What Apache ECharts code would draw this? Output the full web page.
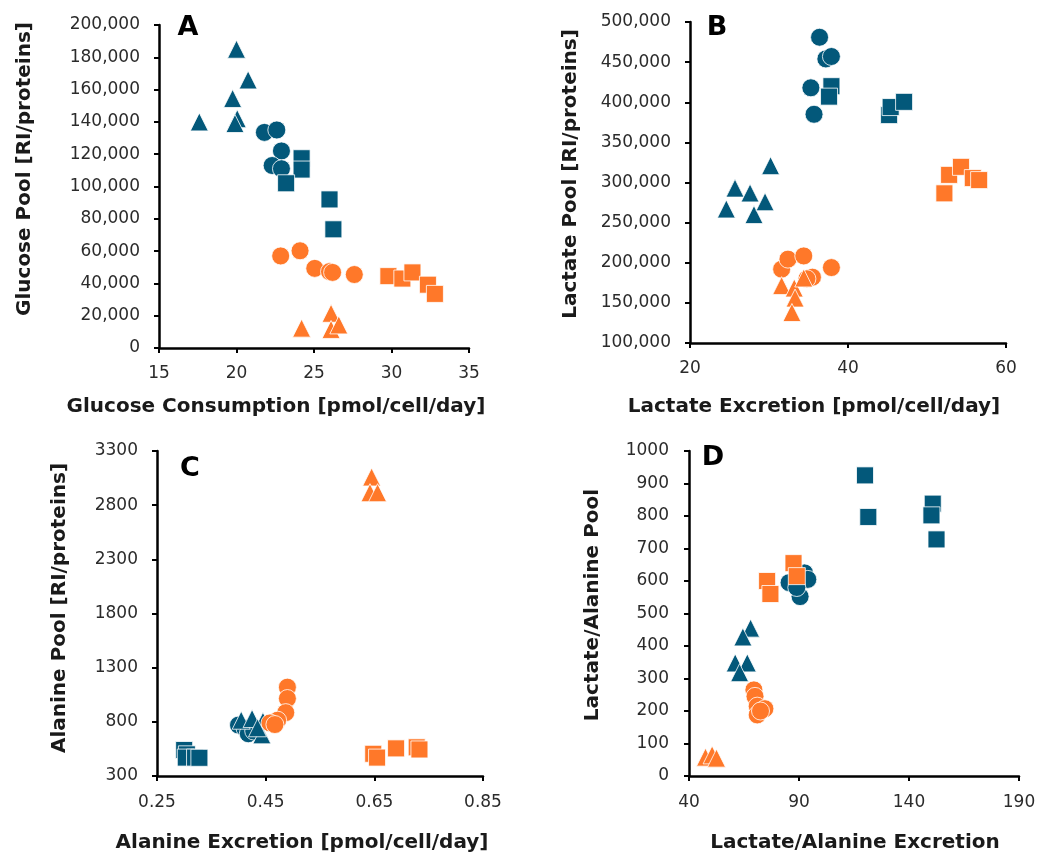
<!DOCTYPE html>
<html>
<head>
<meta charset="utf-8">
<script src="https://cdn.jsdelivr.net/npm/echarts@6/dist/echarts.min.js"></script>
<style>
html,body{margin:0;padding:0;background:#fff;}
#chart{width:1056px;height:857px;}
</style>
</head>
<body>
<div id="chart"></div>
<script>
// ---------- Panel A: Glucose ----------
const aTealCircle = [[21.8,133500],[22.6,135000],[22.9,122000],[22.3,113000],[22.9,111000]];
const aTealSquare = [[24.2,117500],[24.2,110500],[23.2,102000],[26.0,92000],[26.25,73500]];
const aTealTriangle = [[17.6,140000],[20.0,185000],[20.75,166000],[19.75,154500],[20.05,142000],[19.9,139000]];
const aOrangeCircle = [[22.85,57000],[24.1,60200],[25.05,49300],[26.0,47300],[26.2,46800],[27.6,45500]];
const aOrangeSquare = [[29.8,44500],[30.7,43000],[31.35,46800],[32.35,39200],[32.8,33500]];
const aOrangeTriangle = [[24.2,12300],[26.1,21500],[26.1,11500],[26.6,14300]];

// ---------- Panel B: Lactate ----------
const bTealCircle = [[36.4,481000],[37.2,454000],[37.9,457000],[35.3,418000],[35.7,385000]];
const bTealSquare = [[37.9,420000],[37.6,407000],[45.2,384000],[45.4,394000],[47.1,400500]];
const bTealTriangle = [[24.6,267000],[25.7,293000],[27.6,287000],[28.1,260000],[29.5,276000],[30.2,321000]];
const bOrangeCircle = [[31.6,192000],[32.4,204500],[34.4,208500],[35.5,182000],[37.9,194000],[34.8,180000]];
const bOrangeSquare = [[52.2,286500],[52.8,309500],[54.3,319500],[55.8,305500],[56.6,303000]];
const bOrangeTriangle = [[31.6,171500],[33.2,168500],[33.3,156000],[32.9,138000],[34.4,181000]];

// ---------- Panel C: Alanine ----------
const cTealCircle = [[0.400,770],[0.412,740],[0.418,690],[0.428,715]];
const cTealSquare = [[0.300,540],[0.305,500],[0.303,470],[0.320,470],[0.328,468]];
const cTealTriangle = [[0.405,815],[0.425,830],[0.445,805],[0.443,680],[0.435,745]];
const cOrangeCircle = [[0.490,1120],[0.490,1015],[0.487,885],[0.472,815],[0.458,790],[0.467,775]];
const cOrangeSquare = [[0.648,505],[0.655,470],[0.690,555],[0.728,565],[0.733,545]];
const cOrangeTriangle = [[0.645,3060],[0.642,2915],[0.656,2915]];

// ---------- Panel D: Lactate/Alanine ----------
const dTealCircle = [[92.5,625],[94,605],[88.5,600],[85.5,595],[90.5,552],[89,580]];
const dTealSquare = [[120,925],[121.5,797],[150.8,838],[150.2,802],[152.5,728]];
const dTealTriangle = [[68,455],[64.5,428],[61,348],[66.5,348],[63,318]];
const dOrangeCircle = [[69.5,265],[70,245],[71,215],[74.5,207],[71,188],[72.5,200]];
const dOrangeSquare = [[87.5,655],[89,615],[75.5,600],[77,560]];
const dOrangeTriangle = [[47.5,58],[50.5,65],[52.5,55]];

// ---------- Axis ranges / titles ----------
const xTitles = ['Glucose Consumption [pmol/cell/day]','Lactate Excretion [pmol/cell/day]','Alanine Excretion [pmol/cell/day]','Lactate/Alanine Excretion'];
const yTitles = ['Glucose Pool [RI/proteins]','Lactate Pool [RI/proteins]','Alanine Pool [RI/proteins]','Lactate/Alanine Pool'];
const panelLetters = ['A','B','C','D'];
const xRanges = [[15,35,5],[20,60,20],[0.25,0.85,0.2],[40,190,50]];
const yRanges = [[0,200000,20000],[100000,500000,50000],[300,3300,500],[0,1000,100]];

const TEAL = '#03587a';
const ORANGE = '#ff7829';
const FONT = 'DejaVu Sans';

const layout = [
  {grid:{left:159,top:25,width:310,height:323}, yt:[25,169], xt:[276,407], lt:[188,28], xm:17, ym:19},
  {grid:{left:690,top:22,width:316,height:321}, yt:[571,174], xt:[814,407], lt:[717,28], xm:17, ym:19},
  {grid:{left:157,top:451,width:326,height:325}, yt:[60,608], xt:[302,843], lt:[190,469], xm:18, ym:19},
  {grid:{left:689,top:451,width:330,height:325}, yt:[593,605], xt:[855,843], lt:[713,458], xm:18, ym:20}
];

const seriesData = [
  [aTealCircle,aTealSquare,aTealTriangle,aOrangeCircle,aOrangeSquare,aOrangeTriangle],
  [bTealCircle,bTealSquare,bTealTriangle,bOrangeCircle,bOrangeSquare,bOrangeTriangle],
  [cTealCircle,cTealSquare,cTealTriangle,cOrangeCircle,cOrangeSquare,cOrangeTriangle],
  [dTealCircle,dTealSquare,dTealTriangle,dOrangeCircle,dOrangeSquare,dOrangeTriangle]
];
const shapes = [['circle',18],['rect',17],['triangle',18]];

function comma(v){ return String(Math.round(v)).replace(/\B(?=(\d{3})+(?!\d))/g, ','); }
const xFormat = [v=>String(Math.round(v)), v=>String(Math.round(v)), v=>v.toFixed(2), v=>String(Math.round(v))];
const yFormat = [comma, comma, v=>String(Math.round(v)), v=>String(Math.round(v))];

const grids=[], xAxes=[], yAxes=[], series=[], graphics=[];
const axisCommon = {
  axisLine:{show:true, onZero:false, lineStyle:{color:'#000', width:2.5}},
  axisTick:{show:true, inside:false, length:5, lineStyle:{color:'#000', width:2}},
  splitLine:{show:false}
};
for(let i=0;i<4;i++){
  const L = layout[i];
  grids.push(Object.assign({containLabel:false}, L.grid));
  xAxes.push(Object.assign({}, axisCommon, {
    type:'value', gridIndex:i, min:xRanges[i][0], max:xRanges[i][1], interval:xRanges[i][2],
    axisLabel:{show:true, margin:L.xm, color:'#2b2b2b', fontFamily:FONT, fontSize:17, formatter:xFormat[i], showMinLabel:true, showMaxLabel:true}
  }));
  yAxes.push(Object.assign({}, axisCommon, {
    type:'value', gridIndex:i, min:yRanges[i][0], max:yRanges[i][1], interval:yRanges[i][2],
    axisLabel:{show:true, margin:L.ym, color:'#2b2b2b', fontFamily:FONT, fontSize:17, formatter:yFormat[i], showMinLabel:true, showMaxLabel:true}
  }));
  for(let s=0;s<6;s++){
    const sh = shapes[s%3];
    series.push({
      type:'scatter', xAxisIndex:i, yAxisIndex:i,
      symbol:sh[0], symbolSize:sh[1],
      data:seriesData[i][s],
      z: s<3 ? 2 : 3,
      itemStyle:{color: s<3 ? TEAL : ORANGE, borderColor:'#ffffff', borderWidth:0.8, opacity:1},
      emphasis:{disabled:true}
    });
  }
  graphics.push({type:'text', x:L.yt[0], y:L.yt[1], rotation:Math.PI/2,
    style:{text:yTitles[i], fill:'#1a1a1a', font:'bold 20px "'+FONT+'"', align:'center', verticalAlign:'middle', textAlign:'center', textVerticalAlign:'middle'}});
  graphics.push({type:'text', x:L.xt[0], y:L.xt[1],
    style:{text:xTitles[i], fill:'#1a1a1a', font:'bold 20px "'+FONT+'"', align:'center', verticalAlign:'middle', textAlign:'center', textVerticalAlign:'middle'}});
  graphics.push({type:'text', x:L.lt[0], y:L.lt[1], z:10,
    style:{text:panelLetters[i], fill:'#000', font:'bold 27px "'+FONT+'"', align:'center', verticalAlign:'middle', textAlign:'center', textVerticalAlign:'middle'}});
}

const chart = echarts.init(document.getElementById('chart'), null, {renderer:'canvas'});
chart.setOption({
  animation:false,
  backgroundColor:'#ffffff',
  grid:grids, xAxis:xAxes, yAxis:yAxes, series:series,
  graphic:graphics
});
</script>
</body>
</html>
